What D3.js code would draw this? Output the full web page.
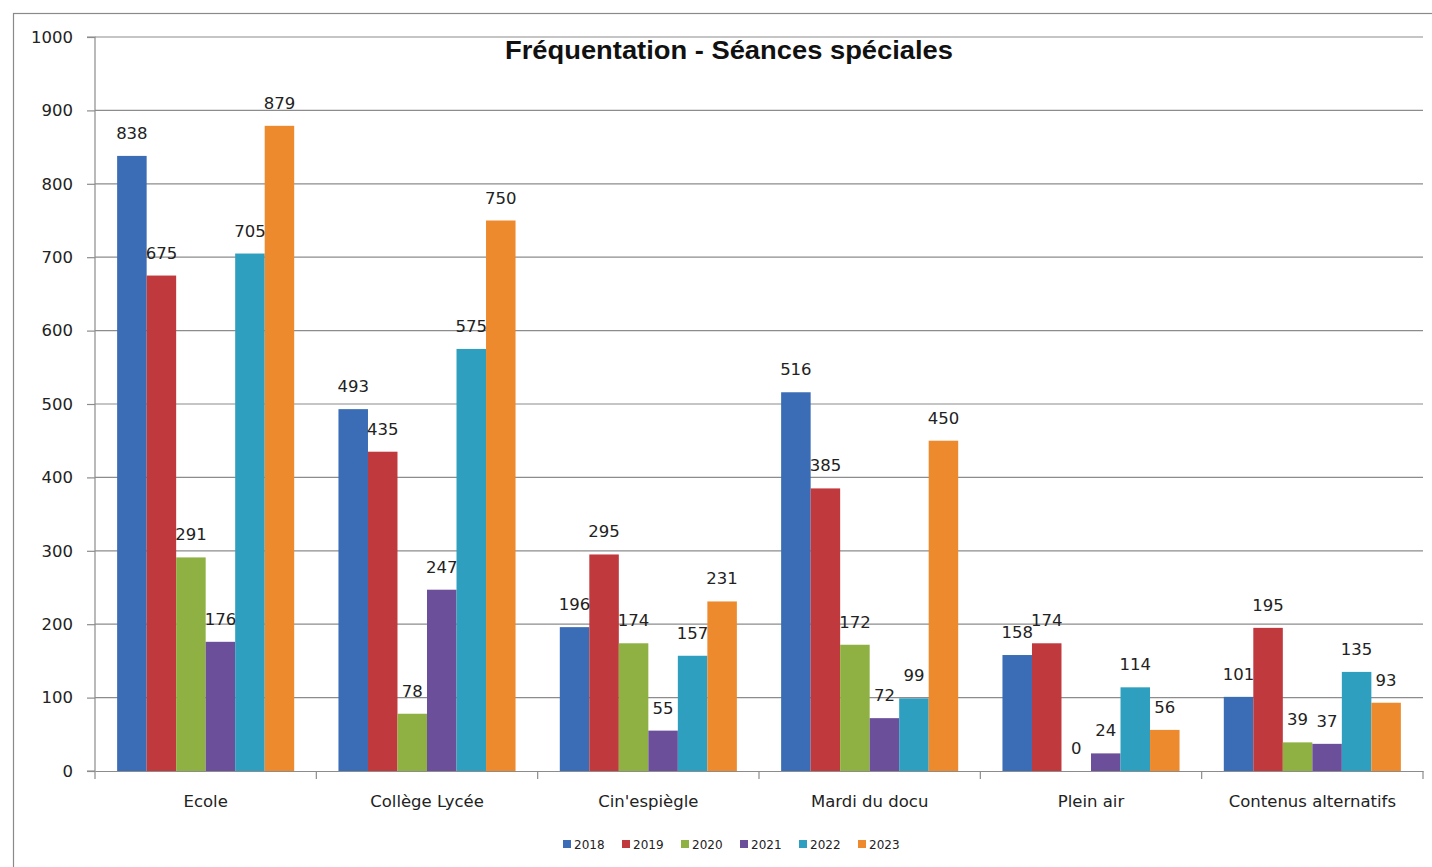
<!DOCTYPE html>
<html><head><meta charset="utf-8">
<script src="https://cdn.jsdelivr.net/npm/d3@7"></script>
<style>body{margin:0;background:#fff}svg{display:block}</style>
</head><body>
<svg id="c" width="1432" height="867"></svg>
<script>
const categories = ["Ecole","Collège Lycée","Cin'espiègle","Mardi du docu","Plein air","Contenus alternatifs"];
const years = ["2018","2019","2020","2021","2022","2023"];
const v2018 = [838,493,196,516,158,101];
const v2019 = [675,435,295,385,174,195];
const v2020 = [291,78,174,172,0,39];
const v2021 = [176,247,55,72,24,37];
const v2022 = [705,575,157,99,114,135];
const v2023 = [879,750,231,450,56,93];
const yTicks = [0,100,200,300,400,500,600,700,800,900,1000];
const colors = ["#3a6db5","#c0393d","#8fb043","#6c4f9a","#2f9fbf","#ee8a2e"];
const series = [v2018,v2019,v2020,v2021,v2022,v2023];

(function(){
const svg = d3.select("#c");
const pL=95,pR=1423,pT=37,pB=771;
svg.append("rect").attr("x",13.5).attr("y",13.5).attr("width",1440).attr("height",870)
  .attr("fill","none").attr("stroke","#8a8a8a").attr("stroke-width",1.2);

const x0 = d3.scaleBand().domain(categories).range([pL,pR]).paddingInner(0).paddingOuter(0);
const x1 = d3.scaleBand().domain(years).range([0,x0.bandwidth()]).paddingOuter(0.75).paddingInner(0);
const y = d3.scaleLinear().domain([0,1000]).range([pB,pT]);

const font = "DejaVu Sans, Verdana, sans-serif";
svg.append("g").selectAll("line").data(yTicks.filter(t=>t>0)).join("line")
  .attr("x1",pL).attr("x2",pR).attr("y1",d=>y(d)).attr("y2",d=>y(d))
  .attr("stroke","#8c8c8c").attr("stroke-width",1.2);

const ya = svg.append("g").attr("transform",`translate(${pL},0)`)
  .call(d3.axisLeft(y).tickValues(yTicks).tickSize(8).tickPadding(14).tickFormat(d3.format("d")));
ya.select(".domain").attr("stroke","#8c8c8c").attr("stroke-width",1.2).attr("d",`M-8,${pT}H0V${pB}H-8`);
ya.selectAll(".tick line").attr("stroke","#8c8c8c").attr("stroke-width",1.2);
ya.selectAll(".tick text").attr("font-family",font).attr("font-size",16.5).attr("fill","#222");

const xa = svg.append("g").attr("transform",`translate(0,${pB})`)
  .call(d3.axisBottom(x0).tickSize(0).tickPadding(24));
xa.select(".domain").attr("stroke","#8c8c8c").attr("stroke-width",1.2);
xa.selectAll(".tick text").attr("font-family",font).attr("font-size",16.5).attr("fill","#222");
svg.append("g").selectAll("line").data(categories.map(c=>x0(c)).concat([pR])).join("line")
  .attr("x1",d=>d).attr("x2",d=>d).attr("y1",pB).attr("y2",pB+8)
  .attr("stroke","#8c8c8c").attr("stroke-width",1.2);

const g = svg.append("g");
years.forEach((yr,i)=>{
  g.append("g").selectAll("rect").data(categories).join("rect")
    .attr("x",c=>x0(c)+x1(yr)).attr("width",x1.bandwidth())
    .attr("y",(c,j)=>y(series[i][j])).attr("height",(c,j)=>pB-y(series[i][j]))
    .attr("fill",colors[i]);
});
years.forEach((yr,i)=>{
  g.append("g").selectAll("text").data(categories).join("text")
    .attr("x",c=>x0(c)+x1(yr)+x1.bandwidth()/2)
    .attr("y",(c,j)=>y(series[i][j])-17)
    .attr("text-anchor","middle").attr("font-family",font).attr("font-size",16.5).attr("fill","#222")
    .text((c,j)=>series[i][j]);
});

svg.append("text").attr("x",729).attr("y",59).attr("text-anchor","middle")
  .attr("font-family","Liberation Sans, Arial, sans-serif").attr("font-weight","bold")
  .attr("font-size",25).attr("fill","#111").attr("textLength",448).attr("lengthAdjust","spacingAndGlyphs")
  .text("Fréquentation - Séances spéciales");

const lg = svg.append("g");
const lx = 563, ly = 844, step = 59;
years.forEach((yr,i)=>{
  lg.append("rect").attr("x",lx+i*step).attr("y",ly-4).attr("width",8).attr("height",8).attr("fill",colors[i]);
  lg.append("text").attr("x",lx+i*step+11).attr("y",ly+4.5).attr("font-family",font).attr("font-size",12)
    .attr("fill","#222").text(yr);
});
})();
</script>
</body></html>
